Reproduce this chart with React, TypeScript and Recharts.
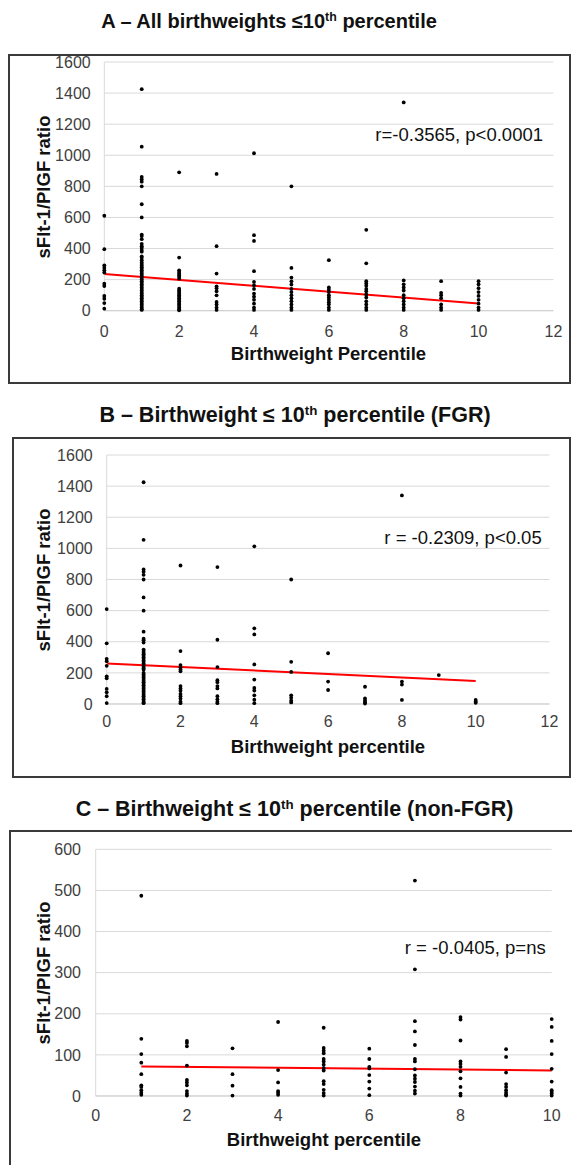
import React from 'react';
import { ScatterChart, Scatter, XAxis, YAxis, CartesianGrid, ReferenceLine } from 'recharts';

// Birthweight percentile categories
const percentilesAll = [0, 1, 2, 3, 4, 5, 6, 7, 8, 9, 10];
const percentilesFGR = [0, 1, 2, 3, 4, 5, 6, 7, 8, 9, 10];
const percentilesNonFGR = [1, 2, 3, 4, 5, 6, 7, 8, 9, 10];

// sFlt-1/PlGF ratios per percentile (one list per percentile)
const ratiosAll: number[][] = [
  [611, 396, 292, 277, 260, 245, 174, 159, 95, 77, 49, 13],
  [1425, 1055, 860, 845, 830, 800, 685, 600, 490, 480, 460, 430, 415, 405, 390, 380, 350, 340, 325, 310, 300, 290, 280, 270, 260, 250, 240, 230, 220, 210, 200, 190, 180, 170, 160, 150, 140, 130, 120, 110, 100, 90, 80, 70, 60, 50, 40, 30, 20, 10, 5],
  [890, 342, 260, 249, 239, 228, 217, 206, 142, 130, 120, 110, 100, 90, 80, 70, 60, 50, 40, 30, 20, 10, 3],
  [880, 415, 239, 157, 145, 125, 99, 56, 40, 20, 5],
  [1013, 486, 449, 254, 185, 163, 140, 110, 90, 70, 45, 20, 5],
  [800, 275, 213, 189, 168, 140, 120, 100, 80, 60, 40, 20, 5],
  [325, 150, 135, 120, 100, 85, 70, 55, 40, 20, 5],
  [520, 305, 190, 175, 160, 140, 125, 105, 85, 60, 40, 20, 5],
  [1340, 195, 170, 150, 130, 100, 80, 60, 40, 20, 5],
  [190, 115, 100, 80, 40, 20, 5],
  [190, 170, 145, 120, 95, 70, 45, 20, 5],
];

const ratiosFGR: number[][] = [
  [610, 390, 290, 275, 245, 178, 165, 97, 75, 50, 6],
  [1425, 1055, 865, 850, 830, 800, 685, 600, 465, 420, 410, 395, 350, 340, 330, 320, 310, 300, 290, 280, 270, 260, 250, 240, 230, 220, 200, 190, 180, 170, 160, 150, 140, 130, 120, 110, 100, 90, 80, 70, 60, 50, 40, 30, 20, 10, 5],
  [890, 340, 250, 235, 222, 210, 115, 100, 85, 65, 50, 35, 15, 5],
  [880, 413, 237, 153, 140, 115, 100, 50, 30, 15, 5],
  [1013, 486, 447, 254, 157, 103, 86, 56, 28, 5],
  [800, 271, 206, 56, 40, 22, 10],
  [326, 144, 90],
  [111, 36, 21, 11, 3],
  [1340, 144, 125, 26],
  [186],
  [26, 15, 8],
];

const ratiosNonFGR: number[][] = [
  [487, 139, 102, 81, 53, 26, 22, 14, 8, 3],
  [134, 129, 121, 74, 39, 33, 26, 12, 6, 1],
  [116, 53, 25, 1],
  [180, 63, 33, 12, 8, 3],
  [166, 117, 110, 104, 90, 84, 76, 68, 62, 36, 29, 15, 7, 1],
  [115, 90, 71, 67, 51, 35, 18, 2],
  [524, 308, 182, 157, 124, 90, 84, 65, 50, 42, 34, 23, 13, 6],
  [192, 186, 135, 84, 78, 71, 60, 43, 22, 6, 1],
  [114, 95, 57, 29, 22, 14, 8, 3, 1],
  [187, 168, 134, 102, 66, 35, 14, 10, 6, 1],
];

// Linear trend lines (endpoints)
const trendAllX = [0, 10];
const trendAllY = [236, 46];
const trendFGRX = [0, 10];
const trendFGRY = [261, 148];
const trendNonFGRX = [1, 10];
const trendNonFGRY = [72, 62];

// Tick labels
const ticksX12 = [0, 2, 4, 6, 8, 10, 12];
const ticksX10 = [0, 2, 4, 6, 8, 10];
const ticksY1600 = [0, 200, 400, 600, 800, 1000, 1200, 1400, 1600];
const ticksY600 = [0, 100, 200, 300, 400, 500, 600];

const FONT = "'Liberation Sans', Arial, Helvetica, sans-serif";

function toPoints(xs: number[], cols: number[][]) {
  const pts: { x: number; y: number }[] = [];
  xs.forEach((x, i) => {
    (cols[i] || []).forEach((y) => pts.push({ x, y }));
  });
  return pts;
}

const Dot = (p: any) => <circle cx={p.cx} cy={p.cy} r={1.9} fill="#000" />;

type PanelProps = {
  top: number;
  height: number;
  margin: { top: number; right: number; bottom: number; left: number };
  xDomain: [number, number];
  xTicks: number[];
  yDomain: [number, number];
  yTicks: number[];
  points: { x: number; y: number }[];
  trendX: number[];
  trendY: number[];
  xTickMargin: number;
  yTickMargin: number;
};

function Panel(props: PanelProps) {
  return (
    <div style={{ position: 'absolute', left: 0, top: props.top }}>
      <ScatterChart width={572} height={props.height} margin={props.margin}>
        <CartesianGrid vertical={false} stroke="#d9d9d9" strokeWidth={1} />
        <XAxis
          type="number"
          dataKey="x"
          domain={props.xDomain}
          ticks={props.xTicks}
          interval={0}
          height={30}
          tickLine={false}
          tickSize={6}
          tickMargin={props.xTickMargin}
          axisLine={{ stroke: '#cfcfcf', strokeWidth: 1 }}
          tick={{ fontSize: 16, fill: '#404040', fontFamily: FONT }}
        />
        <YAxis
          type="number"
          dataKey="y"
          domain={props.yDomain}
          ticks={props.yTicks}
          interval={0}
          width={60}
          tickLine={false}
          tickSize={6}
          tickMargin={props.yTickMargin}
          axisLine={{ stroke: '#d9d9d9', strokeWidth: 1 }}
          tick={{ fontSize: 16, fill: '#404040', fontFamily: FONT }}
        />
        <Scatter data={props.points} fill="#000" shape={Dot} isAnimationActive={false} />
        <ReferenceLine
          segment={[
            { x: props.trendX[0], y: props.trendY[0] },
            { x: props.trendX[1], y: props.trendY[1] },
          ]}
          stroke="#ff0000"
          strokeWidth={2}
        />
      </ScatterChart>
    </div>
  );
}

const Sup = () => (
  <span style={{ fontSize: '0.62em', position: 'relative', top: '-0.55em' }}>th</span>
);

function Title(props: { cx: number; cy: number; size: number; children: React.ReactNode }) {
  return (
    <div
      style={{
        position: 'absolute',
        left: props.cx,
        top: props.cy - 14,
        height: 28,
        lineHeight: '28px',
        transform: 'translateX(-50%)',
        whiteSpace: 'nowrap',
        fontSize: props.size,
        fontWeight: 700,
        color: '#111',
      }}
    >
      {props.children}
    </div>
  );
}

function XTitle(props: { cx: number; cy: number; text: string }) {
  return (
    <div
      style={{
        position: 'absolute',
        left: props.cx,
        top: props.cy - 12,
        height: 24,
        lineHeight: '24px',
        transform: 'translateX(-50%)',
        whiteSpace: 'nowrap',
        fontSize: 18.5,
        fontWeight: 700,
        color: '#111',
      }}
    >
      {props.text}
    </div>
  );
}

function YTitle(props: { cx: number; cy: number; text: string }) {
  return (
    <div
      style={{
        position: 'absolute',
        left: props.cx,
        top: props.cy,
        height: 24,
        lineHeight: '24px',
        transform: 'translate(-50%, -50%) rotate(-90deg)',
        whiteSpace: 'nowrap',
        fontSize: 18.5,
        fontWeight: 700,
        color: '#111',
      }}
    >
      {props.text}
    </div>
  );
}

function Note(props: { right: number; cy: number; text: string }) {
  return (
    <div
      style={{
        position: 'absolute',
        right: 572 - props.right,
        top: props.cy - 12,
        height: 24,
        lineHeight: '24px',
        whiteSpace: 'nowrap',
        fontSize: 18.5,
        color: '#111',
      }}
    >
      {props.text}
    </div>
  );
}

function Box(props: { left: number; top: number; width: number; height: number }) {
  return (
    <div
      style={{
        position: 'absolute',
        left: props.left,
        top: props.top,
        width: props.width,
        height: props.height,
        boxSizing: 'border-box',
        border: '2px solid #3a3a3a',
      }}
    />
  );
}

export default function App() {
  const ptsAll = toPoints(percentilesAll, ratiosAll);
  const ptsFGR = toPoints(percentilesFGR, ratiosFGR);
  const ptsNon = toPoints(percentilesNonFGR, ratiosNonFGR);
  return (
    <div
      style={{
        position: 'absolute',
        left: 0,
        top: 0,
        width: 572,
        height: 1165,
        overflow: 'hidden',
        background: '#fff',
        fontFamily: FONT,
      }}
    >
      <Box left={8} top={54} width={563} height={330} />
      <Box left={12} top={437} width={559} height={341} />
      <Box left={9} top={830} width={600} height={400} />

      <Title cx={269} cy={21} size={20}>
        A – All birthweights ≤10<Sup /> percentile
      </Title>
      <Title cx={295} cy={415} size={21.5}>
        B – Birthweight ≤ 10<Sup /> percentile (FGR)
      </Title>
      <Title cx={294.5} cy={809} size={21.5}>
        C – Birthweight ≤ 10<Sup /> percentile (non-FGR)
      </Title>

      <Panel
        top={0}
        height={384}
        margin={{ top: 62, right: 18.6, bottom: 43.3, left: 44.3 }}
        xDomain={[0, 12]}
        xTicks={ticksX12}
        yDomain={[0, 1600]}
        yTicks={ticksY1600}
        points={ptsAll}
        trendX={trendAllX}
        trendY={trendAllY}
        xTickMargin={8.6}
        yTickMargin={7.6}
      />
      <Panel
        top={384}
        height={400}
        margin={{ top: 71, right: 22.5, bottom: 50, left: 46.7 }}
        xDomain={[0, 12]}
        xTicks={ticksX12}
        yDomain={[0, 1600]}
        yTicks={ticksY1600}
        points={ptsFGR}
        trendX={trendFGRX}
        trendY={trendFGRY}
        xTickMargin={6}
        yTickMargin={8}
      />
      <Panel
        top={780}
        height={385}
        margin={{ top: 69.3, right: 20.3, bottom: 39, left: 35.7 }}
        xDomain={[0, 10]}
        xTicks={ticksX10}
        yDomain={[0, 600]}
        yTicks={ticksY600}
        points={ptsNon}
        trendX={trendNonFGRX}
        trendY={trendNonFGRY}
        xTickMargin={7.3}
        yTickMargin={8.7}
      />

      <YTitle cx={43.5} cy={186.5} text="sFlt-1/PlGF ratio" />
      <YTitle cx={43.5} cy={579.5} text="sFlt-1/PlGF ratio" />
      <YTitle cx={43.5} cy={972.5} text="sFlt-1/PlGF ratio" />

      <XTitle cx={328.5} cy={353.5} text="Birthweight Percentile" />
      <XTitle cx={328} cy={746.7} text="Birthweight percentile" />
      <XTitle cx={324} cy={1140} text="Birthweight percentile" />

      <Note right={543} cy={134.7} text="r=-0.3565, p<0.0001" />
      <Note right={541.7} cy={537.8} text="r = -0.2309, p<0.05" />
      <Note right={545.7} cy={947.5} text="r = -0.0405, p=ns" />
    </div>
  );
}
